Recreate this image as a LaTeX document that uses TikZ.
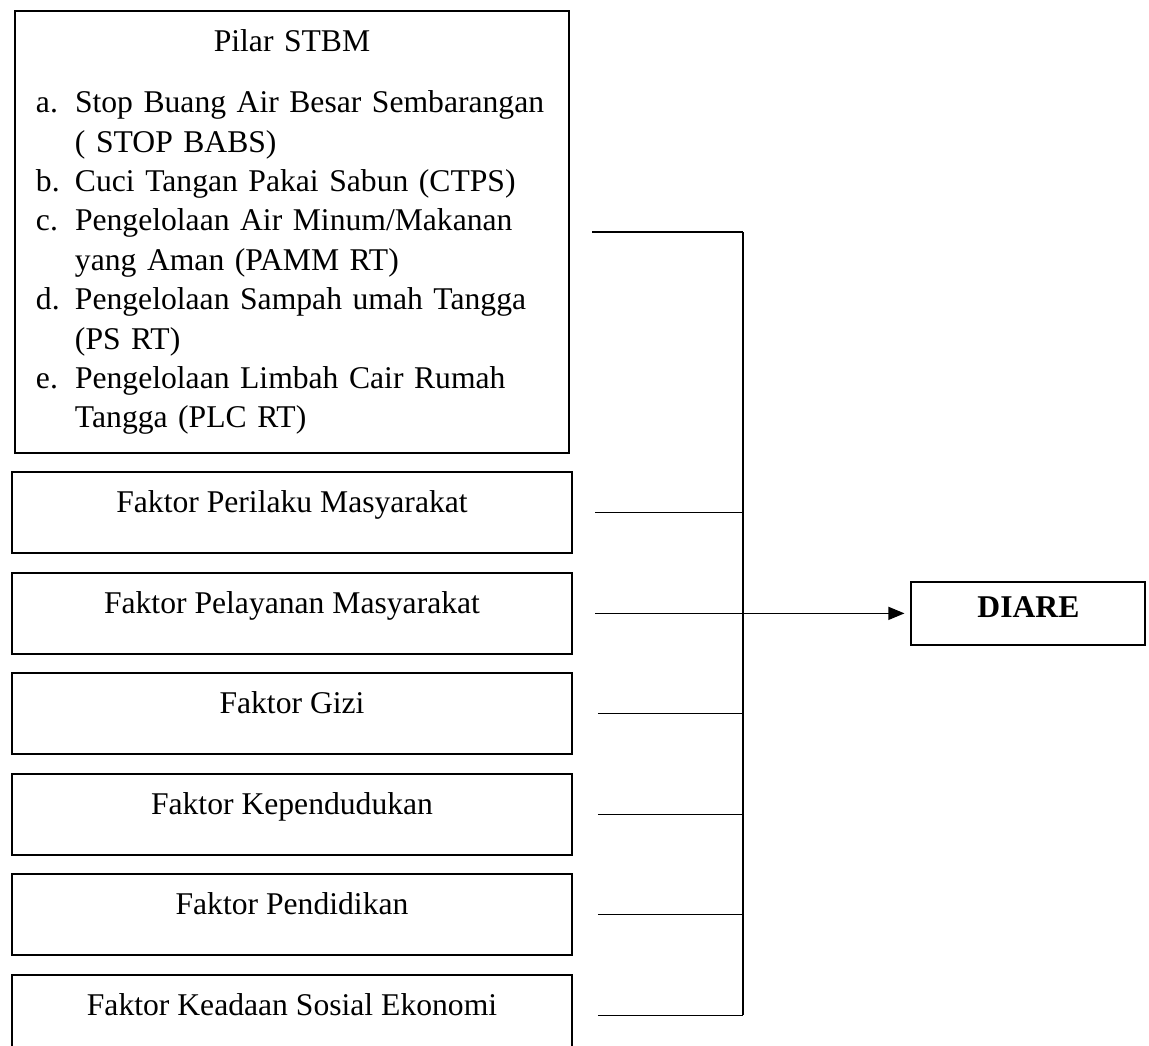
\documentclass[tikz,border=0pt]{standalone}
\usepackage{fontspec}
\setmainfont{Liberation Serif}
\usepackage{tikz}
\usetikzlibrary{positioning,arrows.meta}
\newcommand\stbmfont{\fontsize{18}{22.4}\selectfont}
\tikzset{
  pilar/.style={rectangle, draw, line width=1.1pt, minimum height=8.84cm,
                inner xsep=0.42cm, text width=10.24cm, align=left, font=\stbmfont},
  faktor/.style={rectangle, draw, line width=1.1pt, minimum width=11.2cm,
                 minimum height=1.62cm, text height=0.3cm, text depth=0.3cm,
                 align=center, font=\stbmfont},
  hasil/.style={rectangle, draw, line width=1.1pt, minimum width=4.68cm,
                minimum height=1.26cm, text depth=0.25cm, font=\stbmfont\bfseries},
  link/.style={line width=0.6pt},
  flow/.style={-{Triangle[length=3.2mm,width=2.6mm]}, line width=0.6pt, shorten >=1.2mm}
}
\begin{document}
\begin{tikzpicture}[node distance=0.35cm]
\useasboundingbox (0,0) rectangle (22.98,-20.9);
\clip (0,0) rectangle (22.98,-20.9);
\node[pilar] (stbm) at (5.84,-4.64) {%
  \begin{tabular}{@{}p{0.78cm}@{}l@{}}
  \multicolumn{2}{@{}c@{}}{\makebox[10.24cm]{Pilar STBM}}\\[0.43cm]
  a. & Stop Buang Air Besar Sembarangan\\
     & ( STOP BABS)\\
  b. & Cuci Tangan Pakai Sabun (CTPS)\\
  c. & Pengelolaan Air Minum/Makanan\\
     & yang Aman (PAMM RT)\\
  d. & Pengelolaan Sampah umah Tangga\\
     & (PS RT)\\
  e. & Pengelolaan Limbah Cair Rumah\\
     & Tangga (PLC RT)
  \end{tabular}};
\node[faktor, below=of stbm] (perilaku) {Faktor Perilaku Masyarakat};
\node[faktor, below=of perilaku] (pelayanan) {Faktor Pelayanan Masyarakat};
\node[faktor, below=of pelayanan] (gizi) {Faktor Gizi};
\node[faktor, below=of gizi] (penduduk) {Faktor Kependudukan};
\node[faktor, below=of penduduk] (didik) {Faktor Pendidikan};
\node[faktor, below=of didik] (sosek) {Faktor Keadaan Sosial Ekonomi};

\coordinate (bus) at (14.86,0);
\coordinate (s0) at ([xshift=0.45cm]stbm.east);
\coordinate (s1) at ([xshift=0.45cm]perilaku.east);
\coordinate (s2) at ([xshift=0.45cm]pelayanan.east);
\coordinate (s3) at ([xshift=0.5cm]gizi.east);
\coordinate (s4) at ([xshift=0.5cm]penduduk.east);
\coordinate (s5) at ([xshift=0.5cm]didik.east);
\coordinate (s6) at ([xshift=0.5cm]sosek.east);

\node[hasil, right=6.3cm of s2] (diare) {DIARE};

\draw[link] (s0) -- (s0 -| bus);
\draw[link] (s1) -- (s1 -| bus);
\draw[link] (s3) -- (s3 -| bus);
\draw[link] (s4) -- (s4 -| bus);
\draw[link] (s5) -- (s5 -| bus);
\draw[link] (s6) -- (s6 -| bus);
\draw[link] (s0 -| bus) -- (s6 -| bus);
\draw[flow] (s2) -- (diare);
\end{tikzpicture}
\end{document}
